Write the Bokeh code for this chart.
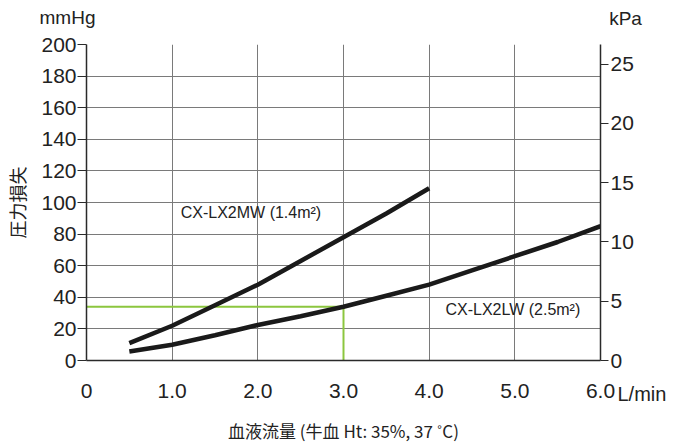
import math
from bokeh.plotting import figure
from bokeh.models import Range1d, LinearAxis, Label, FixedTicker
from bokeh.embed import file_html
from bokeh.resources import INLINE

# ---- data ----
flow_mw = [0.5, 1.0, 1.5, 2.0, 2.5, 3.0, 3.5, 4.0]
dp_mw = [11, 22, 35, 48, 63, 78, 93, 109]
flow_lw = [0.5, 1.0, 1.5, 2.0, 2.5, 3.0, 3.5, 4.0, 4.5, 5.0, 5.5, 6.0]
dp_lw = [5.7, 10, 16, 22.5, 28, 34, 41, 48, 57, 66, 75, 85]
ref_flow = [0.0, 3.0, 3.0]
ref_dp = [34, 34, 0]
x_ticks = [0, 1, 2, 3, 4, 5, 6]
x_tick_labels = ["0", "1.0", "2.0", "3.0", "4.0", "5.0", "6.0"]
y_ticks = [0, 20, 40, 60, 80, 100, 120, 140, 160, 180, 200]
kpa_ticks = [0, 5, 10, 15, 20, 25]
MMHG_PER_KPA = 7.50062
name_mw = "CX-LX2MW (1.4m²)"
name_lw = "CX-LX2LW (2.5m²)"

FONT = "Liberation Sans"
JFONT = "Noto Sans CJK JP"
AX = "#2a2a2a"
GRID = "#7a7a7a"
TXT = "#222222"

p = figure(width=670, height=448, output_backend="svg", toolbar_location=None,
           x_range=Range1d(0, 6), y_range=Range1d(0, 200),
           min_border_left=86, min_border_right=70, min_border_top=44, min_border_bottom=88)
p.outline_line_color = None
p.background_fill_color = "white"
p.border_fill_color = "white"

p.extra_y_ranges = {"kpa": Range1d(0, 200 / MMHG_PER_KPA)}

# grid
p.xgrid.ticker = FixedTicker(ticks=x_ticks)
p.ygrid.ticker = FixedTicker(ticks=y_ticks)
p.xgrid.grid_line_color = GRID
p.ygrid.grid_line_color = GRID
p.xgrid.grid_line_width = 1
p.ygrid.grid_line_width = 1

# x axis
xa = p.xaxis[0]
xa.ticker = FixedTicker(ticks=x_ticks)
xa.major_label_overrides = {t: l for t, l in zip(x_ticks, x_tick_labels)}
xa.major_tick_out = 0
xa.major_tick_in = 0
xa.minor_tick_out = 0
xa.minor_tick_in = 0
xa.axis_line_color = AX
xa.axis_line_width = 1.5
xa.major_label_standoff = 23
xa.major_label_text_font = FONT
xa.major_label_text_font_size = "21px"
xa.major_label_text_color = TXT
xa.axis_label = "血液流量 (牛血 Ht: 35%, 37 ˚C)"
xa.axis_label_text_font = JFONT
xa.axis_label_text_font_size = "17px"
xa.axis_label_text_font_style = "normal"
xa.axis_label_text_color = TXT
xa.axis_label_standoff = 17

# left axis
ya = p.yaxis[0]
ya.ticker = FixedTicker(ticks=y_ticks)
ya.major_tick_out = 9
ya.major_tick_in = 0
ya.minor_tick_out = 0
ya.minor_tick_in = 0
ya.major_tick_line_color = AX
ya.axis_line_color = AX
ya.axis_line_width = 1.5
ya.major_label_standoff = 1
ya.major_label_text_font = FONT
ya.major_label_text_font_size = "21px"
ya.major_label_text_color = TXT
ya.axis_label = "圧力損失"
ya.axis_label_text_font = JFONT
ya.axis_label_text_font_size = "18px"
ya.axis_label_text_font_style = "normal"
ya.axis_label_text_color = TXT
ya.axis_label_standoff = 8

# right axis
ra = LinearAxis(y_range_name="kpa", ticker=FixedTicker(ticks=kpa_ticks))
ra.major_tick_out = 8
ra.major_tick_in = 0
ra.minor_tick_out = 0
ra.minor_tick_in = 0
ra.major_tick_line_color = AX
ra.axis_line_color = AX
ra.axis_line_width = 1.5
ra.major_label_standoff = 2
ra.major_label_text_font = FONT
ra.major_label_text_font_size = "21px"
ra.major_label_text_color = TXT
p.add_layout(ra, "right")

# curves
p.line(ref_flow, ref_dp, line_color="#8cc63f", line_width=2)
p.line(flow_mw, dp_mw, line_color="#1a1a1a", line_width=4.5)
p.line(flow_lw, dp_lw, line_color="#1a1a1a", line_width=4.5)

# annotations inside
p.add_layout(Label(x=1.1, y=93.7, text=name_mw, text_font=FONT, text_font_size="16px",
                   text_color=TXT, text_baseline="middle", text_align="left"))
p.add_layout(Label(x=4.19, y=32, text=name_lw, text_font=FONT, text_font_size="16px",
                   text_color=TXT, text_baseline="middle", text_align="left"))

# unit labels kept in side panels (coordinates relative to their panel, y up from panel bottom)
p.add_layout(Label(x=-19, y=27, x_units="screen", y_units="screen", text="mmHg",
                   text_font=FONT, text_font_size="19px", text_color=TXT,
                   text_align="center", text_baseline="middle"), "above")
p.add_layout(Label(x=531, y=-370, x_units="screen", y_units="screen", text="L/min",
                   text_font=FONT, text_font_size="20px", text_color=TXT,
                   text_align="left", text_baseline="middle"), "above")
p.add_layout(Label(x=-11, y=342, x_units="screen", y_units="screen", text="kPa",
                   text_font=FONT, text_font_size="19px", text_color=TXT,
                   text_align="center", text_baseline="middle"), "right")

open("out.html", "w").write(file_html(p, INLINE))
